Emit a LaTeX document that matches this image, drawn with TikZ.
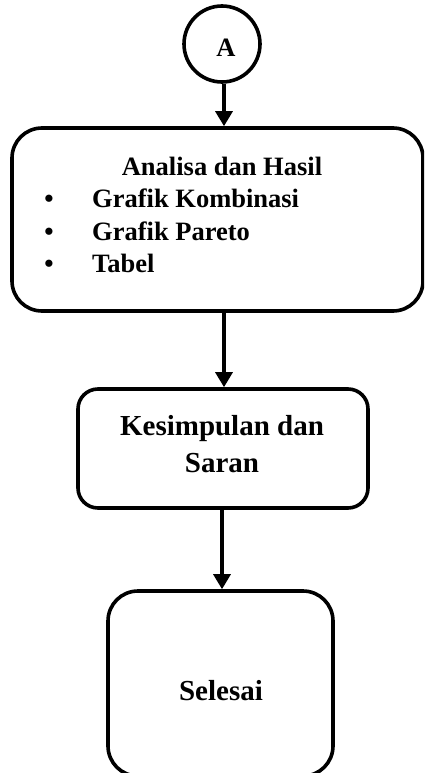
\documentclass[tikz,border=0pt]{standalone}
\usepackage{fontspec}
\setmainfont{Liberation Serif}
\usetikzlibrary{arrows.meta}
\begin{document}
\begin{tikzpicture}[x=1pt,y=-1pt,
  box/.style={draw=black, line width=3.6pt, fill=none, inner sep=0pt},
  arr/.style={line width=3.2pt, -{Triangle[width=17pt,length=15pt]}},
  t1/.style={font=\fontsize{26.5}{32}\selectfont\bfseries, inner sep=0pt},
  t2/.style={font=\fontsize{29}{36}\selectfont\bfseries, inner sep=0pt}]
\useasboundingbox (0,0) rectangle (424,773);
\clip (0,0) rectangle (424,773);
% connector circle
\node[box, circle, minimum size=76pt] (A) at (222,44) {};
\node[t1, anchor=base] (Atxt) at (226,57) {A};
% box 1
\node[box, rounded corners=30pt, minimum width=411pt, minimum height=183pt] (b1) at (217.5,219.5) {};
\node[t1, anchor=base] (h1) at (222,175) {Analisa dan Hasil};
\node[t1, anchor=base] (d1) at (49,207) {•};
\node[t1, anchor=base] (d2) at (49,240) {•};
\node[t1, anchor=base] (d3) at (49,272) {•};
\node[t1, anchor=base west] (i1) at (92,207) {Grafik Kombinasi};
\node[t1, anchor=base west] (i2) at (92,240) {Grafik Pareto};
\node[t1, anchor=base west] (i3) at (92,272) {Tabel};
% box 2
\node[box, rounded corners=20pt, minimum width=290pt, minimum height=119pt] (b2) at (223,448.5) {};
\node[t2, anchor=base] (k1) at (222,435) {Kesimpulan dan};
\node[t2, anchor=base] (k2) at (222,472) {Saran};
% box 3
\node[box, rounded corners=30pt, minimum width=225pt, minimum height=185pt] (b3) at (220.5,683.5) {};
\node[t2, anchor=base] (s1) at (221,700) {Selesai};
% arrows
\draw[arr] ([xshift=2pt]A.south) -- ([xshift=2pt]A.south |- b1.north);
\draw[arr] ([xshift=1pt]b2.north |- b1.south) -- ([xshift=1pt]b2.north);
\draw[arr] ([xshift=1.5pt]b3.north |- b2.south) -- ([xshift=1.5pt]b3.north);
\end{tikzpicture}
\end{document}
